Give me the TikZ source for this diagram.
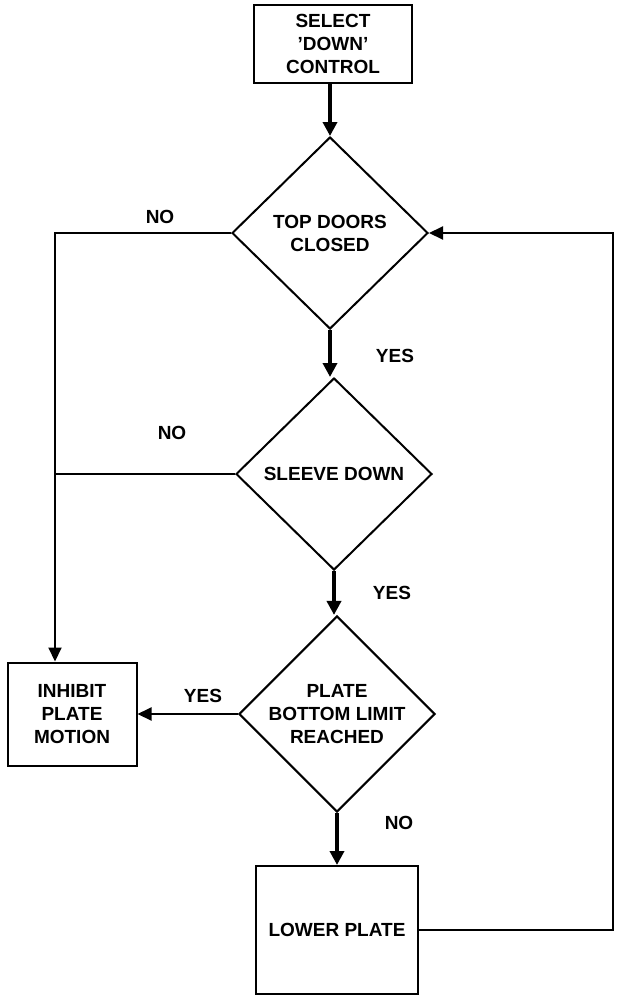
\documentclass[tikz,border=0pt]{standalone}
\usepackage{fontspec}
\setmainfont{Liberation Sans}
\usetikzlibrary{shapes.geometric,arrows.meta}
\begin{document}
\begin{tikzpicture}[x=0.5pt, y=-0.5pt,
                    every node/.style={font=\fontsize{9.5}{11.5}\selectfont\bfseries, align=center},
                    boxnode/.style={draw, line width=1pt, rectangle, inner sep=0pt},
                    asknode/.style={draw, line width=1pt, diamond, inner sep=0pt,
                                    minimum width=98pt, minimum height=96pt},
                    flow/.style={line width=1pt},
                    arr/.style={line width=1pt, -{Triangle[length=7pt, width=6.5pt]}},
                    bigarr/.style={line width=1.8pt, -{Triangle[length=7pt, width=7pt]}}]
                    \useasboundingbox (0,0) rectangle (624,996);

                    \node [boxnode, minimum width=79pt, minimum height=39pt] (start) at (333,44) {SELECT\\'DOWN'\\CONTROL};
                    \node [asknode] (doors)  at (330,233) {TOP DOORS\\CLOSED};
                    \node [asknode] (sleeve) at (334,474) {SLEEVE DOWN};
                    \node [asknode] (limit)  at (337,714) {PLATE\\BOTTOM LIMIT\\REACHED};
                    \node [boxnode, minimum width=64.5pt, minimum height=51.5pt] (inhibit) at (72,714) {INHIBIT\\PLATE\\MOTION};
                    \node [boxnode, minimum width=81pt, minimum height=64pt] (lower) at (337,930) {LOWER PLATE};

                    \coordinate (jn) at (55,474);
                    \coordinate (rt) at (613,233);

                    \draw[bigarr] (doors.north |- start.south) -- (doors.north);
                    \draw[bigarr] (doors.south) -- (doors.south |- sleeve.north);
                    \draw[bigarr] (sleeve.south) -- (sleeve.south |- limit.north);
                    \draw[bigarr] (limit.south) -- (lower.north);

                    \draw[flow] (doors.west) -| (jn);
                    \draw[flow] (sleeve.west) -- (jn);
                    \draw[arr] (jn) -- (jn |- inhibit.north);
                    \draw[arr] (limit.west) -- (inhibit.east);
                    \draw[arr] (lower.east) -| (rt) -- (doors.east);

                    \node (no1)  at (160,217) {NO};
                    \node (yes1) at (395,356) {YES};
                    \node (no2)  at (172,433) {NO};
                    \node (yes2) at (392,593) {YES};
                    \node (yes3) at (203,696) {YES};
                    \node (no3)  at (399,823) {NO};
                \end{tikzpicture}
\end{document}
